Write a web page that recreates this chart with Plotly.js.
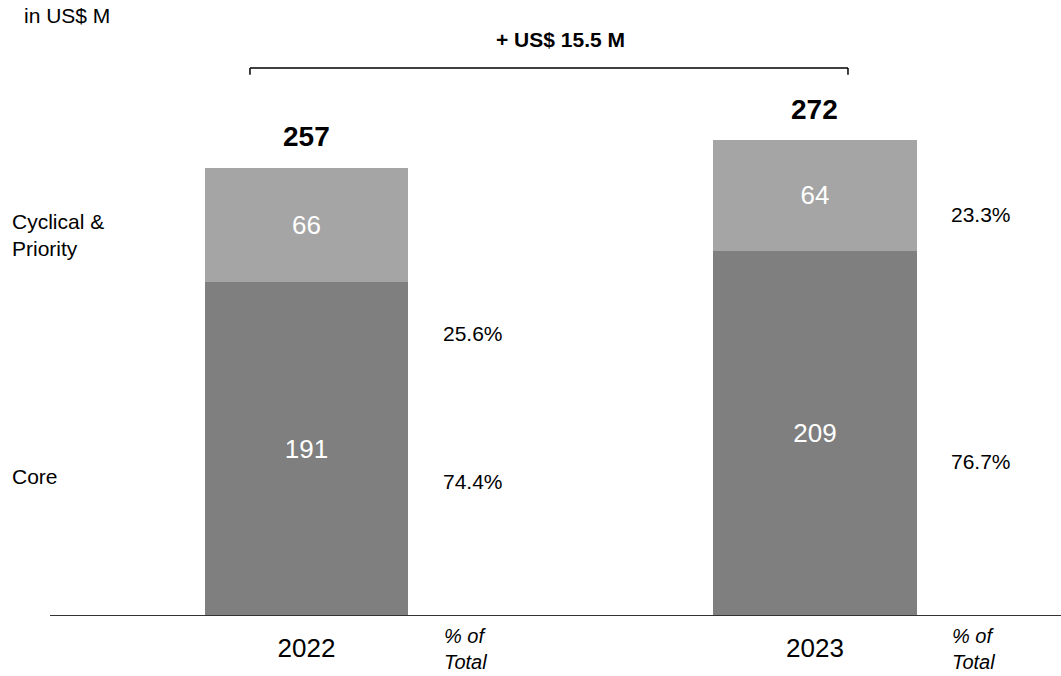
<!DOCTYPE html>
<html>
<head>
<meta charset="utf-8">
<script src="https://cdn.plot.ly/plotly-3.0.1.min.js"></script>
<style>html,body{margin:0;padding:0;background:#fff;}#chart{width:1061px;height:676px;}</style>
</head>
<body>
<div id="chart"></div>
<script>
// ---- data ----
const years = ['2022', '2023'];
const coreValues = [191, 209];
const cyclicalValues = [66, 64];
const totals = [257, 272];
const coreShare = ['74.4%', '76.7%'];
const cyclicalShare = ['25.6%', '23.3%'];
const deltaLabel = '+ US$ 15.5 M';
const unitLabel = 'in US$ M';
const seriesNames = ['Core', 'Cyclical &<br>Priority'];
const shareLabel = '% of<br>Total';

const xs = years.map((_, i) => i);
const FONT = 'Liberation Sans, Arial, sans-serif';

const traces = [
  {
    type: 'bar', x: xs, y: coreValues, width: 0.4,
    marker: {color: '#7f7f7f', line: {width: 0}},
    text: coreValues.map(String), textposition: 'inside', insidetextanchor: 'middle',
    textfont: {family: FONT, size: 26, color: '#ffffff'}, hoverinfo: 'none'
  },
  {
    type: 'bar', x: xs, y: cyclicalValues, width: 0.4,
    marker: {color: '#a5a5a5', line: {width: 0}},
    text: cyclicalValues.map(String), textposition: 'inside', insidetextanchor: 'middle',
    textfont: {family: FONT, size: 26, color: '#ffffff'}, hoverinfo: 'none'
  }
];

const ann = [];
const baseFont = {family: FONT, size: 21, color: '#000'};
// totals
xs.forEach((x, i) => ann.push({
  x: x, y: totals[i], xref: 'x', yref: 'y', text: '<b>' + totals[i] + '</b>',
  showarrow: false, yanchor: 'bottom', yshift: 14, font: {family: FONT, size: 28, color: '#000'}
}));
// shares
const shareOffset = 0.264;
const cycShareY = [161.4, 229.8];
const coreShareY = [76.4, 87.9];
xs.forEach((x, i) => {
  ann.push({x: x + shareOffset, y: cycShareY[i], xref: 'x', yref: 'y', text: cyclicalShare[i],
    showarrow: false, xanchor: 'left', yanchor: 'middle', font: baseFont});
  ann.push({x: x + shareOffset, y: coreShareY[i], xref: 'x', yref: 'y', text: coreShare[i],
    showarrow: false, xanchor: 'left', yanchor: 'middle', font: baseFont});
  ann.push({x: x + 0.266, y: 0, xref: 'x', yref: 'y', text: '<i>' + shareLabel + '</i>',
    showarrow: false, xanchor: 'left', yanchor: 'top', yshift: -8, align: 'left',
    font: {family: FONT, size: 20, color: '#000'}});
});
// series labels
ann.push({x: -0.0396, y: 218.3, xref: 'paper', yref: 'y', text: seriesNames[1],
  showarrow: false, xanchor: 'left', yanchor: 'middle', align: 'left', font: baseFont});
ann.push({x: -0.0396, y: 79.8, xref: 'paper', yref: 'y', text: seriesNames[0],
  showarrow: false, xanchor: 'left', yanchor: 'middle', align: 'left', font: baseFont});
// unit
ann.push({x: -0.0278, y: 0.974, xref: 'paper', yref: 'paper', text: unitLabel,
  showarrow: false, xanchor: 'left', yanchor: 'middle', font: baseFont});
// delta
ann.push({x: 0.5045, y: 0.935, xref: 'paper', yref: 'paper', text: '<b>' + deltaLabel + '</b>',
  showarrow: false, xanchor: 'center', yanchor: 'middle', font: {family: FONT, size: 21, color: '#000'}});

const layout = {
  width: 1061, height: 676,
  margin: {l: 50, r: 0, t: 0, b: 61},
  paper_bgcolor: '#fff', plot_bgcolor: '#fff',
  barmode: 'stack', showlegend: false,
  xaxis: {
    range: [-0.5044, 1.4838], tickvals: xs, ticktext: years,
    showgrid: false, zeroline: false, showline: true, linecolor: '#333', linewidth: 1,
    ticks: '', ticklabelstandoff: 10, tickfont: {family: FONT, size: 26, color: '#000'}
  },
  yaxis: {range: [0, 353.2], visible: false, showgrid: false, zeroline: false},
  annotations: ann
};
// bracket between the two totals
const bx0 = 0.1978, bx1 = 0.7893, byTop = 314.2, byBot = 310.2;
const bLine = {color: '#000', width: 1.5};
layout.shapes = [
  {type: 'line', xref: 'paper', yref: 'y', x0: bx0, x1: bx1, y0: byTop, y1: byTop, line: bLine},
  {type: 'line', xref: 'paper', yref: 'y', x0: bx0, x1: bx0, y0: byTop, y1: byBot, line: bLine},
  {type: 'line', xref: 'paper', yref: 'y', x0: bx1, x1: bx1, y0: byTop, y1: byBot, line: bLine}
];

Plotly.newPlot('chart', traces, layout, {displayModeBar: false, staticPlot: true});
</script>
</body>
</html>
